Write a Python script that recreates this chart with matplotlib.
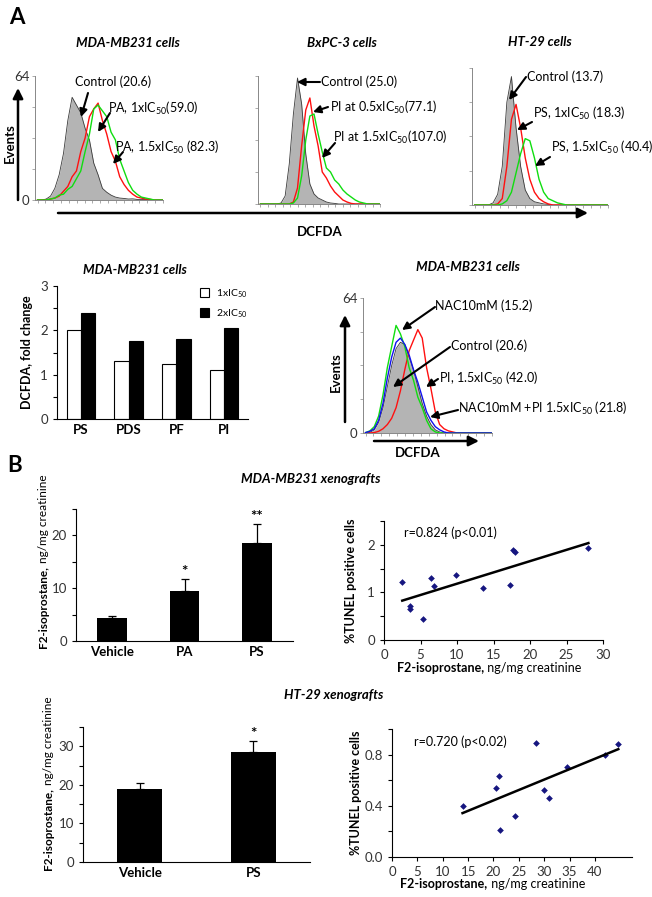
import matplotlib
matplotlib.use('Agg')
import matplotlib.pyplot as plt
import numpy as np

# ---------------- data ----------------
bins = np.linspace(0, 100, 30)   # DCFDA channel (arbitrary units)

# MDA-MB231 histograms
mda_control = [0, 0, 0.5, 2, 6, 13, 24, 41, 53, 49, 45, 37, 31, 19, 13, 6, 4, 2.5, 1.5, 1, 0.8, 0.5, 0.6, 0.3, 0.2, 0.3, 0.1, 0, 0, 0]
mda_pa_1x = [0, 0, 0, 0.5, 1, 2, 4.5, 7, 12, 15, 25, 32, 43, 47, 50, 41, 34, 25, 20, 12, 8, 5, 3, 1.5, 1, 0.5, 0.3, 0, 0, 0]
mda_pa_15x = [0, 0, 0, 0.5, 1, 2.5, 3, 5.5, 7, 11, 15, 25, 34, 47, 49, 46, 43, 35, 31, 21, 15, 9, 5, 3, 1.5, 1, 0.5, 0, 0, 0]

# BxPC-3 histograms
bx_control = [0, 0, 0, 0, 0, 0.5, 4, 20, 45, 63, 50, 25, 10, 5, 3, 2, 1, 0.5, 0.3, 0, 0, 0, 0, 0, 0, 0, 0, 0, 0, 0]
bx_pi_05x = [0, 0, 0, 0, 0, 0, 0, 0, 1, 8, 29, 47, 53, 39, 29, 16, 13, 9, 6, 4, 2, 1, 0.3, 0, 0, 0, 0, 0, 0, 0]
bx_pi_15x = [0, 0, 0, 0, 0, 0, 0, 0, 0.5, 3, 14, 32, 44, 45, 35, 26, 18, 16, 12, 10, 7, 5, 3.5, 2, 1, 0.5, 0, 0, 0, 0]

# HT-29 histograms
ht_control = [0, 0, 0, 0, 1, 5, 18, 48, 60, 36, 18, 7, 3, 1.5, 1, 0.5, 0.3, 0, 0, 0, 0, 0, 0, 0, 0, 0, 0, 0, 0, 0]
ht_ps_1x = [0, 0, 0, 0, 0, 0.5, 3, 18, 40, 47, 36, 22, 12, 6, 3, 1.5, 0.5, 0, 0, 0, 0, 0, 0, 0, 0, 0, 0, 0, 0, 0]
ht_ps_15x = [0, 0, 0, 0, 0, 0, 0.5, 2, 6, 15, 24, 31, 30, 22, 12, 6, 3, 2, 1, 0.5, 0, 0, 0, 0, 0, 0, 0, 0, 0, 0]

# MDA-MB231 with NAC
nac_control = [0, 0.3, 1.5, 5, 12, 22, 32, 40, 43, 42, 36, 30, 22, 14, 8, 4, 1.5, 0.5, 0, 0, 0, 0, 0, 0, 0, 0, 0, 0, 0, 0]
nac_only = [0.2, 1, 3, 8, 18, 31, 41, 51, 47, 41, 31, 25, 17, 12, 6, 2, 0.5, 0, 0, 0, 0, 0, 0, 0, 0, 0, 0, 0, 0, 0]
nac_plus_pi = [0.2, 0.8, 2, 6, 14, 26, 36, 43, 45, 42, 37, 30, 24, 17, 10, 6, 3, 1.5, 0.5, 0, 0, 0, 0, 0, 0, 0, 0, 0, 0, 0]
nac_pi = [0, 0, 0.2, 0.8, 2, 4, 7, 12, 20, 30, 39, 44, 49, 45, 31, 21, 10, 4, 2, 1, 0.5, 0, 0, 0, 0, 0, 0, 0, 0, 0]

# fold change bar chart
drugs = ['PS', 'PDS', 'PF', 'PI']
fold_1x = [2.0, 1.3, 1.25, 1.1]
fold_2x = [2.4, 1.75, 1.8, 2.05]

# xenograft F2-isoprostane
mda_groups = ['Vehicle', 'PA', 'PS']
mda_f2 = [4.3, 9.4, 18.5]
mda_f2_err = [0.5, 2.4, 3.7]
mda_stars = ['', '*', '**']

ht_groups = ['Vehicle', 'PS']
ht_f2 = [18.8, 28.5]
ht_f2_err = [1.8, 3.0]
ht_stars = ['', '*']

# correlation with TUNEL
mda_x = [2.5, 3.5, 3.5, 5.3, 6.5, 6.9, 9.8, 13.5, 17.3, 17.7, 17.9, 28.0]
mda_y = [1.22, 0.72, 0.66, 0.45, 1.30, 1.13, 1.37, 1.10, 1.15, 1.90, 1.85, 1.93]
ht_x = [13.9, 20.4, 21.1, 21.2, 24.3, 28.4, 30.0, 30.9, 34.5, 42.0, 44.6]
ht_y = [0.40, 0.54, 0.63, 0.21, 0.32, 0.89, 0.52, 0.46, 0.70, 0.80, 0.88]

# ---------------- style ----------------
plt.rcParams['font.family'] = ['Lato', 'DejaVu Sans']
plt.rcParams['mathtext.fontset'] = 'custom'
plt.rcParams['mathtext.rm'] = 'Lato'
plt.rcParams['mathtext.it'] = 'Lato:italic'
plt.rcParams['mathtext.bf'] = 'Lato:bold'
plt.rcParams['font.size'] = 9
plt.rcParams['axes.linewidth'] = 0.8

W, H = 652, 897
fig = plt.figure(figsize=(W / 100, H / 100), dpi=100)
TICK = 9.5


def px_axes(x0, y0, x1, y1):
    # pixel box (top-left origin) -> axes
    return fig.add_axes([x0 / W, 1 - y1 / H, (x1 - x0) / W, (y1 - y0) / H])


def clean(ax):
    ax.spines['top'].set_visible(False)
    ax.spines['right'].set_visible(False)
    ax.tick_params(labelsize=TICK, labelcolor='#333333', length=3, width=0.8)


def draw_hist(ax, gray, curves, labels=True):
    ax.fill_between(bins, gray, color='#b4b4b4', lw=0)
    ax.plot(bins, gray, color='#3a3a3a', lw=0.6)
    for vals, col in curves:
        ax.plot(bins, vals, color=col, lw=1.0)
    ax.set_xlim(-2, 100)
    ax.set_ylim(0, 64)
    for s in ['left', 'bottom']:
        ax.spines[s].set_color('#888888')
        ax.spines[s].set_linewidth(0.7)
    ax.spines['top'].set_visible(False)
    ax.spines['right'].set_visible(False)
    ax.set_yticks([0, 16, 32, 48, 64])
    ax.set_yticklabels(['0', '', '', '', '64'] if labels else [])
    ax.set_xticks(np.arange(0, 101, 6.25))
    ax.set_xticklabels([])
    ax.tick_params(length=2, width=0.5, color='#888888', labelsize=TICK, labelcolor='#333333', pad=2)


# ---------------- A: histograms ----------------
ax1 = px_axes(35, 76, 163, 200)
draw_hist(ax1, mda_control, [(mda_pa_1x, '#ff1010'), (mda_pa_15x, '#10dd10')])
ax2 = px_axes(258, 76, 380, 204)
draw_hist(ax2, bx_control, [(bx_pi_05x, '#ff1010'), (bx_pi_15x, '#10dd10')], labels=False)
ax3 = px_axes(472, 68, 608, 205)
draw_hist(ax3, ht_control, [(ht_ps_1x, '#ff1010'), (ht_ps_15x, '#10dd10')], labels=False)
ax4 = px_axes(363, 298, 492, 433)
draw_hist(ax4, nac_control, [(nac_pi, '#ff1010'), (nac_only, '#10dd10'), (nac_plus_pi, '#1010ee')])

# ---------------- A: fold change bars ----------------
axb = px_axes(57, 286, 248, 419)
xpos = np.arange(len(drugs))
bw = 0.3
axb.bar(xpos - bw / 2, fold_1x, bw, color='white', edgecolor='black', lw=0.8, label='1xIC$_{50}$')
axb.bar(xpos + bw / 2, fold_2x, bw, color='black', edgecolor='black', lw=0.8, label='2xIC$_{50}$')
axb.set_xlim(-0.5, 3.5)
axb.set_ylim(0, 3)
axb.set_yticks([0, 1, 2, 3])
axb.set_yticks([0.5, 1.5, 2.5], minor=True)
axb.set_xticks(xpos)
axb.set_xticklabels(drugs, fontweight='bold', fontsize=9.5)
clean(axb)
axb.tick_params(axis='x', length=0, labelcolor='black')
axb.tick_params(axis='y', which='minor', length=3, width=0.8)
axb.set_ylabel('DCFDA, fold change', fontweight='bold', fontsize=9)
axb.yaxis.set_label_coords(-0.126, 0.5)
axb.legend(loc='upper left', bbox_to_anchor=(0.70, 1.06), frameon=False, fontsize=7.5,
           handlelength=0.9, handleheight=0.9, handletextpad=0.6, labelspacing=0.7)


def two_part_label(ax, bold, normal, x, y, rotation=0, size=8.5):
    if rotation:
        t1 = ax.text(x, y, bold, transform=ax.transAxes, rotation=90, ha='center', va='bottom',
                     fontweight='bold', fontsize=size)
        ax.annotate(' ' + normal, xy=(0.5, 1), xycoords=t1, rotation=90, ha='center', va='bottom',
                    fontsize=size)
    else:
        t1 = ax.text(x, y, bold, transform=ax.transAxes, ha='left', va='center',
                     fontweight='bold', fontsize=size)
        ax.annotate(' ' + normal, xy=(1, 0.5), xycoords=t1, ha='left', va='center', fontsize=size)


def f2_bars(ax, groups, vals, errs, stars, ymax, major, width):
    xs = np.arange(len(groups))
    ax.bar(xs, vals, width, color='black')
    ax.errorbar(xs, vals, yerr=[np.zeros(len(vals)), errs], fmt='none', ecolor='black',
                elinewidth=0.9, capsize=3, capthick=0.9)
    for x, v, e, s in zip(xs, vals, errs, stars):
        ax.text(x, v + e, s, ha='center', va='bottom', fontsize=11, fontweight='bold')
    ax.set_xlim(-0.5, len(groups) - 0.5)
    ax.set_ylim(0, ymax)
    ax.set_yticks(np.arange(0, ymax, major))
    ax.set_yticks(np.arange(major / 2, ymax + 0.01, major), minor=True)
    ax.set_xticks(xs)
    ax.set_xticklabels(groups, fontweight='bold', fontsize=9.5)
    clean(ax)
    ax.tick_params(axis='x', length=0, labelcolor='black')
    ax.tick_params(axis='y', which='minor', length=3, width=0.8)


def tunel_scatter(ax, xs, ys, text):
    ax.plot(xs, ys, 'D', color='#161680', ms=3.4, mew=0)
    k, b = np.polyfit(xs, ys, 1)
    xl = np.array([min(xs), max(xs)])
    ax.plot(xl, k * xl + b, color='black', lw=1.8)
    ax.text(0.09, 0.9, text, transform=ax.transAxes, fontsize=9, va='center')
    clean(ax)
    ax.set_ylabel('%TUNEL positive cells', fontweight='bold', fontsize=9)


# ---------------- B: MDA-MB231 xenografts ----------------
axc = px_axes(76, 509, 293, 641)
f2_bars(axc, mda_groups, mda_f2, mda_f2_err, mda_stars, 25, 10, 0.41)
two_part_label(axc, 'F2-isoprostane,', 'ng/mg creatinine', -0.152, -0.05, rotation=90)

axd = px_axes(384, 521, 603, 640)
tunel_scatter(axd, mda_x, mda_y, 'r=0.824 (p<0.01)')
axd.set_xlim(0, 30)
axd.set_ylim(0, 2.5)
axd.set_xticks(np.arange(0, 31, 5))
axd.set_yticks([0, 1, 2])
axd.set_yticks([0.5, 1.5, 2.5], minor=True)
axd.tick_params(axis='y', which='minor', length=3, width=0.8)
axd.yaxis.set_label_coords(-0.123, 0.5)
two_part_label(axd, 'F2-isoprostane,', 'ng/mg creatinine', 0.06, -0.235, size=9)

# ---------------- B: HT-29 xenografts ----------------
axe = px_axes(83, 727, 310, 862)
f2_bars(axe, ht_groups, ht_f2, ht_f2_err, ht_stars, 35, 10, 0.4)
two_part_label(axe, 'F2-isoprostane,', 'ng/mg creatinine', -0.154, -0.06, rotation=90)

axf = px_axes(392, 729, 632, 857)
tunel_scatter(axf, ht_x, ht_y, 'r=0.720 (p<0.02)')
axf.set_xlim(0, 47.3)
axf.set_ylim(0, 1.0)
axf.set_xticks(np.arange(0, 41, 5))
axf.set_yticks([0.0, 0.4, 0.8])
axf.set_yticks([0.2, 0.6, 1.0], minor=True)
axf.set_yticklabels(['0.0', '0.4', '0.8'])
axf.tick_params(axis='y', which='minor', length=3, width=0.8)
axf.yaxis.set_label_coords(-0.125, 0.5)
two_part_label(axf, 'F2-isoprostane,', 'ng/mg creatinine', 0.035, -0.21, size=9)

# ---------------- overlay: titles, arrows, annotations ----------------
ov = fig.add_axes([0, 0, 1, 1])
ov.set_xlim(0, W)
ov.set_ylim(H, 0)
ov.axis('off')
ov.patch.set_alpha(0)

ov.text(17, 18, 'A', fontsize=16, fontweight='bold', ha='center', va='center')
ov.text(15, 466, 'B', fontsize=16, fontweight='bold', ha='center', va='center')

titles = [('MDA-MB231 cells', 128, 43), ('BxPC-3 cells', 342, 43), ('HT-29 cells', 540, 42),
          ('MDA-MB231 cells', 135, 270), ('MDA-MB231 cells', 468, 267),
          ('MDA-MB231 xenografts', 311, 479), ('HT-29 xenografts', 334, 695)]
for t, x, y in titles:
    ov.text(x, y, t, fontsize=9.5, fontweight='bold', style='italic', ha='center', va='center')


def arrow(tail, tip, lw=1.5, ms=9):
    ov.annotate('', xy=tip, xytext=tail,
                arrowprops=dict(arrowstyle='-|>,head_length=0.5,head_width=0.25', color='black',
                                lw=lw, shrinkA=0, shrinkB=0, mutation_scale=ms))


# axis arrows and labels
arrow((58, 213), (588, 213), lw=1.8, ms=12)
ov.text(320, 232, 'DCFDA', fontsize=9.5, fontweight='bold', ha='center', va='center')
arrow((18, 200), (18, 88), lw=1.8, ms=12)
ov.text(10, 143, 'Events', fontsize=9.5, fontweight='bold', rotation=90, ha='center', va='center')
arrow((374, 441), (479, 441), lw=1.8, ms=12)
ov.text(418, 453, 'DCFDA', fontsize=9.5, fontweight='bold', ha='center', va='center')
arrow((345, 422), (345, 315), lw=1.8, ms=12)
ov.text(336, 372, 'Events', fontsize=9.5, fontweight='bold', rotation=90, ha='center', va='center')

notes = [
    ('Control (20.6)', (75, 82), (88, 93), (81, 117)),
    ('PA, 1xIC$_{50}$(59.0)', (108, 108), (110, 113), (98, 132)),
    ('PA, 1.5xIC$_{50}$ (82.3)', (115, 147), (123, 152), (113, 164)),
    ('Control (25.0)', (321, 82), (320, 82), (297, 82)),
    ('PI at 0.5xIC$_{50}$(77.1)', (330, 107), (328, 107), (313, 112)),
    ('PI at 1.5xIC$_{50}$(107.0)', (333, 137), (335, 143), (322, 158)),
    ('Control (13.7)', (527, 77), (526, 77), (509, 100)),
    ('PS, 1xIC$_{50}$ (18.3)', (533, 113), (532, 122), (517, 130)),
    ('PS, 1.5xIC$_{50}$ (40.4)', (551, 147), (550, 157), (535, 166)),
    ('NAC10mM (15.2)', (435, 306), (435, 307), (402, 330)),
    ('Control (20.6)', (451, 346), (450, 347), (393, 387)),
    ('PI, 1.5xIC$_{50}$ (42.0)', (439, 378), (438, 379), (426, 387)),
    ('NAC10mM +PI 1.5xIC$_{50}$ (21.8)', (458, 408), (458, 410), (430, 417)),
]
for txt, pos, tail, tip in notes:
    ov.text(pos[0], pos[1], txt, fontsize=9, ha='left', va='center')
    arrow(tail, tip)

fig.savefig('out.png', dpi=100)
